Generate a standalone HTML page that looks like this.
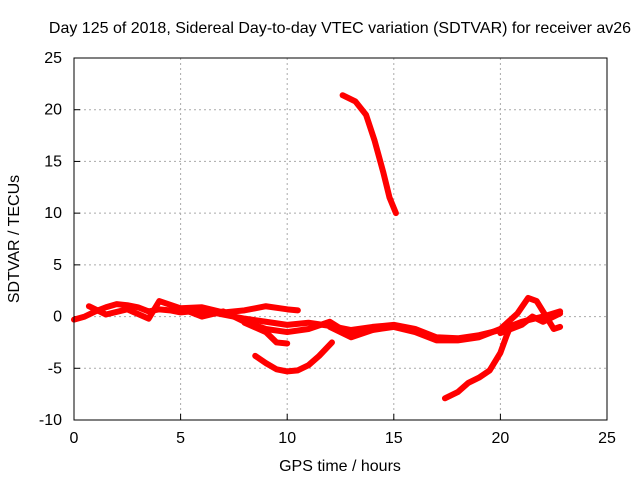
<!DOCTYPE html>
<html><head><meta charset="utf-8"><style>
body{margin:0;background:#fff}
svg text{font-family:"Liberation Sans",sans-serif;font-size:16px;fill:#000}
</style></head><body>
<svg id="chart" width="640" height="480">
<rect width="640" height="480" fill="#fff"/>
<text x="340" y="33" text-anchor="middle">Day 125 of 2018, Sidereal Day-to-day VTEC variation (SDTVAR) for receiver av26</text>
<text x="340" y="471" text-anchor="middle">GPS time / hours</text>
<text transform="translate(19,239) rotate(-90)" text-anchor="middle">SDTVAR / TECUs</text>
<g id="grid"></g><g id="series"></g>
<rect x="74" y="58" width="533" height="362" fill="none" stroke="#000"/>
</svg>
<script>
const xTicks=[0,5,10,15,20,25];
const yTicks=[-10,-5,0,5,10,15,20,25];
const steepT=[12.6,13.2,13.7,14.1,14.5,14.8,15.1];
const steepV=[21.4,20.8,19.5,17,14,11.5,10];
const arcT=[8.5,9,9.5,10,10.5,11,11.5,12.1];
const arcV=[-3.8,-4.5,-5.1,-5.3,-5.2,-4.7,-3.8,-2.5];
const riseT=[17.4,18,18.5,19,19.5,20,20.3,20.5];
const riseV=[-7.9,-7.3,-6.4,-5.9,-5.2,-3.5,-1.8,-0.8];
const bandAT=[0,0.5,1,1.5,2,2.5,3,3.5,4,4.5,5,6,7,8,9,10,11,12,13,14,15,16,17,18,19,20,21,22,22.8];
const bandAV=[-0.3,0,0.5,0.9,1.2,1.1,0.9,0.5,0.7,0.6,0.4,0.6,0.2,-0.2,-0.5,-0.8,-0.6,-0.9,-1.3,-1,-0.8,-1.2,-2,-2.1,-1.8,-1.3,-0.5,0,0.5];
const bandBT=[0.7,1.5,2.5,3.5,4,5,6,7,8,9,10,11,12,13,14];
const bandBV=[1,0.2,0.7,-0.2,1.5,0.8,0,0.5,-0.5,-1.2,-1.5,-1.2,-0.5,-1.8,-1.3];
const bandCT=[8,9,9.5,10];
const bandCV=[-0.6,-1.5,-2.5,-2.6];
const bandDT=[12,13,14,15,16,17,18,19,20,20.8,21.3,21.7,22,22.5,22.8];
const bandDV=[-1,-2,-1.3,-1,-1.5,-2.3,-2.3,-2,-1.2,0.3,1.8,1.5,0.5,-1.2,-1];
const bandET=[20,21,21.5,22,22.8];
const bandEV=[-1.6,-0.8,0,-0.5,0.3];
const bandFT=[5,6,7,8,8.5,9,10,10.5];
const bandFV=[0.8,0.9,0.4,0.6,0.8,1,0.7,0.6];
const X=t=>74+(t-0)*533/25, Y=v=>420-(v+10)*362/35;
const NS="http://www.w3.org/2000/svg";
const g=document.getElementById('grid'), s=document.getElementById('series');
function mk(p,tag,a){const e=document.createElementNS(NS,tag);for(const k in a)e.setAttribute(k,a[k]);p.appendChild(e);return e;}
xTicks.forEach(t=>{
 if(t>0&&t<25){const l=mk(g,'line',{x1:X(t),x2:X(t),y1:58,y2:420,stroke:'#aaa','stroke-dasharray':'2,3'});
 
 }
 const k=mk(g,'line',{x1:X(t),x2:X(t),y1:420,y2:414,stroke:'#000'});
 
 
 const tx=mk(g,'text',{x:X(t),y:443,'text-anchor':'middle'});tx.textContent=t;
 
 
});
yTicks.forEach(v=>{
 if(v>-10&&v<25){const l=mk(g,'line',{x1:74,x2:607,y1:Y(v),y2:Y(v),stroke:'#aaa','stroke-dasharray':'2,3'});
 
 }
 const k=mk(g,'line',{x1:74,x2:80,y1:Y(v),y2:Y(v),stroke:'#000'});
 
 
 const tx=mk(g,'text',{x:62,y:Y(v)+5,'text-anchor':'end'});tx.textContent=v;
 
 
});
[[steepT,steepV],[arcT,arcV],[riseT,riseV],[bandAT,bandAV],[bandBT,bandBV],[bandCT,bandCV],[bandDT,bandDV],[bandET,bandEV],[bandFT,bandFV]].forEach(([T,V])=>{
 const p=mk(s,'polyline',{points:T.map((t,i)=>X(t)+','+Y(V[i])).join(' '),fill:'none',stroke:'#f00','stroke-width':6,'stroke-linejoin':'round','stroke-linecap':'round'});
 
 
});
</script>
</body></html>
